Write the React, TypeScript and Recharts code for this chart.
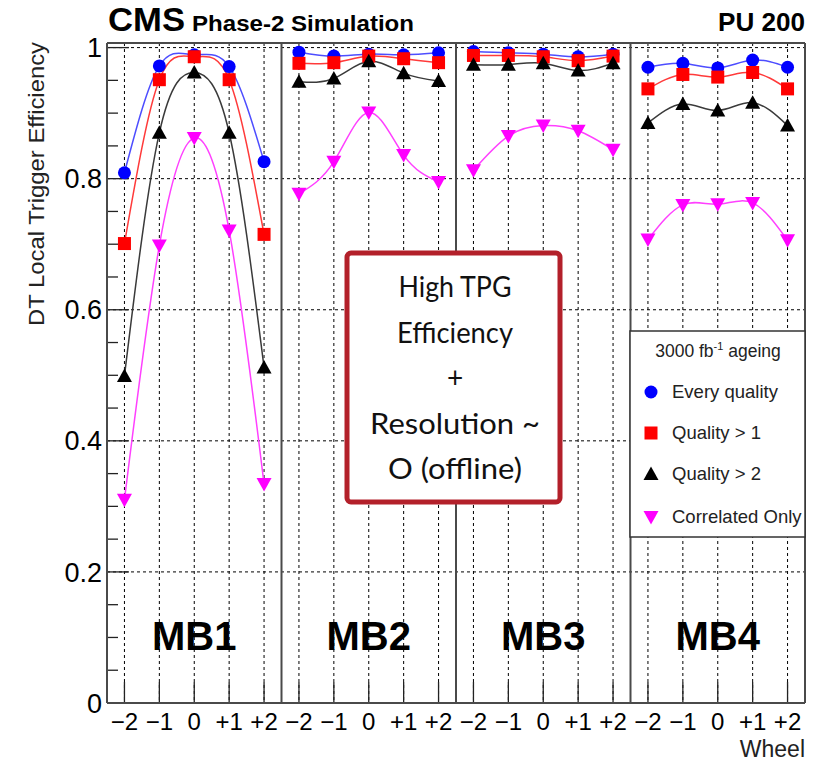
import React from "react";
import { LineChart, Line, XAxis, YAxis, CartesianGrid, ReferenceLine } from "recharts";

// ---------- data ----------
const wheelLabels = ["−2", "−1", "0", "+1", "+2"];
const stations = ["MB1", "MB2", "MB3", "MB4"];
const yTickValues = [0, 0.2, 0.4, 0.6, 0.8, 1];

const everyQuality = [
  0.809, 0.972, 0.989, 0.971, 0.826,
  0.993, 0.987, 0.99, 0.989, 0.992,
  0.994, 0.992, 0.99, 0.986, 0.99,
  0.97, 0.976, 0.969, 0.981, 0.97,
];
const qualityGt1 = [
  0.701, 0.951, 0.986, 0.951, 0.715,
  0.976, 0.977, 0.987, 0.983, 0.977,
  0.988, 0.988, 0.986, 0.98, 0.987,
  0.937, 0.959, 0.955, 0.962, 0.937,
];
const qualityGt2 = [
  0.499, 0.87, 0.962, 0.87, 0.512,
  0.948, 0.953, 0.979, 0.961, 0.949,
  0.974, 0.974, 0.976, 0.965, 0.976,
  0.885, 0.914, 0.904, 0.916, 0.881,
];
const correlatedOnly = [
  0.31, 0.698, 0.862, 0.721, 0.334,
  0.777, 0.826, 0.901, 0.836, 0.795,
  0.813, 0.865, 0.881, 0.873, 0.844,
  0.707, 0.76, 0.761, 0.763, 0.706,
];

const legendTitle = "3000 fb";
const legendTitleSup = "-1";
const legendTitleEnd = " ageing";
const boxLines = ["High TPG", "Efficiency", "+", "Resolution ~", "O (offline)"];
const boxLineWidths = [113, 116, 0, 170, 134];

// ---------- styling / geometry ----------
const FONT = "'Liberation Sans', Arial, Helvetica, sans-serif";
const W = 813;
const H = 762;
const PLOT_L = 107;
const PLOT_R = 805;
const PLOT_T = 43;
const PLOT_B = 703;
const Y_MAX = 1.007;
const X_MAX = 20;
const unitX = (PLOT_R - PLOT_L) / X_MAX;
const unitY = (PLOT_B - PLOT_T) / Y_MAX;

const Marker = ({ shape, cx, cy, color }: any) => {
  if (cx == null || cy == null) return null;
  if (shape === "circle") return <circle cx={cx} cy={cy} r={6.5} fill={color} />;
  if (shape === "square") return <rect x={cx - 6.5} y={cy - 6.5} width={13} height={13} fill={color} />;
  if (shape === "up")
    return <polygon points={`${cx},${cy - 7.5} ${cx - 7.5},${cy + 6} ${cx + 7.5},${cy + 6}`} fill={color} />;
  return <polygon points={`${cx},${cy + 7.5} ${cx - 7.5},${cy - 6} ${cx + 7.5},${cy - 6}`} fill={color} />;
};

const series = [
  { name: "Every quality", values: everyQuality, color: "#0000ff", line: "#4d4dff", shape: "circle" },
  { name: "Quality > 1", values: qualityGt1, color: "#ff0000", line: "#ff3a3a", shape: "square" },
  { name: "Quality > 2", values: qualityGt2, color: "#000000", line: "#3a3a3a", shape: "up" },
  { name: "Correlated Only", values: correlatedOnly, color: "#ff00ff", line: "#ff40ff", shape: "down" },
];

const panelData = (values: number[], p: number) =>
  wheelLabels.map((_, i) => ({ x: p * 5 + i + 0.5, v: values[p * 5 + i] }));

const xTicks: number[] = [];
stations.forEach((_, p) => wheelLabels.forEach((_, i) => xTicks.push(p * 5 + i + 0.5)));

const yMinorTicks: number[] = [];
for (let k = 1; k <= 20; k++) yMinorTicks.push(Math.round(k * 5) / 100);

export default function App() {
  return (
    <div style={{ position: "absolute", left: 0, top: 0, width: W, height: H, background: "#fff" }}>
      <LineChart width={W} height={H} margin={{ top: PLOT_T, right: W - PLOT_R, bottom: 29, left: 47 }}>
        <CartesianGrid stroke="#000" strokeDasharray="3 3" strokeWidth={1} />
        <XAxis
          type="number"
          dataKey="x"
          domain={[0, X_MAX]}
          ticks={xTicks}
          interval={0}
          allowDataOverflow
          height={30}
          tickLine={false}
          axisLine={false}
          tickSize={0}
          tickMargin={10}
          tick={{ fill: "#000", fontSize: 24, fontFamily: FONT }}
          tickFormatter={(v: number) => wheelLabels[Math.floor(v) % 5]}
        />
        <YAxis
          type="number"
          domain={[0, Y_MAX]}
          ticks={yTickValues}
          interval={0}
          allowDataOverflow
          width={60}
          tickLine={false}
          axisLine={false}
          tickSize={0}
          tickMargin={5}
          tick={{ fill: "#000", fontSize: 27, fontFamily: FONT }}
          tickFormatter={(v: number) => (v === 0 ? "0" : v === 1 ? "1" : v.toFixed(1))}
        />
        {yMinorTicks.map((t) => {
          const major = Math.abs(t * 5 - Math.round(t * 5)) < 1e-6;
          return (
            <ReferenceLine
              key={`yt${t}`}
              segment={[{ x: 0, y: t }, { x: (major ? 22 : 11) / unitX, y: t }]}
              stroke="#222"
              strokeWidth={1.3}
              ifOverflow="visible"
            />
          );
        })}
        {xTicks.map((t) => (
          <ReferenceLine
            key={`xt${t}`}
            segment={[{ x: t, y: 0 }, { x: t, y: 21 / unitY }]}
            stroke="#222"
            strokeWidth={1.3}
            ifOverflow="visible"
          />
        ))}
        {[0, 5, 10, 15, 20].map((x) => (
          <ReferenceLine key={`sep${x}`} x={x} stroke="#4a4a4a" strokeWidth={2} ifOverflow="visible" />
        ))}
        <ReferenceLine y={0} stroke="#4a4a4a" strokeWidth={2} ifOverflow="visible" />
        <ReferenceLine y={Y_MAX} stroke="#4a4a4a" strokeWidth={2} ifOverflow="visible" />
        {series.map((s) =>
          stations.map((st, p) => (
            <Line
              key={`${s.name}-${st}`}
              data={panelData(s.values, p)}
              dataKey="v"
              type="natural"
              stroke={s.line}
              strokeWidth={1.5}
              isAnimationActive={false}
              activeDot={false}
              legendType="none"
              dot={(props: any) => (
                <Marker key={`${s.name}-${p}-${props.index}`} shape={s.shape} cx={props.cx} cy={props.cy} color={s.color} />
              )}
            />
          ))
        )}
      </LineChart>

      <svg
        width={W}
        height={H}
        style={{ position: "absolute", left: 0, top: 0, pointerEvents: "none" }}
        fontFamily={FONT}
      >
        {/* header */}
        <text x={108} y={31} fontSize={33} fontWeight="bold" textLength={77} lengthAdjust="spacingAndGlyphs">
          CMS
        </text>
        <text x={192} y={31} fontSize={22} fontWeight="bold" textLength={222} lengthAdjust="spacingAndGlyphs">
          Phase-2 Simulation
        </text>
        <text x={718} y={31} fontSize={25} fontWeight="bold" textLength={87} lengthAdjust="spacingAndGlyphs">
          PU 200
        </text>

        {/* y axis title */}
        <text
          transform="translate(44,184) rotate(-90)"
          textAnchor="middle"
          fontSize={22}
          fill="#222"
          textLength={284}
          lengthAdjust="spacingAndGlyphs"
        >
          DT Local Trigger Efficiency
        </text>

        {/* x axis title */}
        <text x={805} y={757} textAnchor="end" fontSize={23} fill="#222">
          Wheel
        </text>

        {/* station labels */}
        {stations.map((st, p) => (
          <text
            key={st}
            x={PLOT_L + (p * 5 + 2.5) * unitX}
            y={PLOT_B - 0.081 * unitY}
            textAnchor="middle"
            fontSize={40}
            fontWeight="bold"
            fill="#000"
          >
            {st}
          </text>
        ))}

        {/* highlight box */}
        <rect x={347} y={253} width={213} height={249} rx={4} fill="#fff" stroke="#b3202a" strokeWidth={5} />
        {boxLines.map((t, i) => (
          <text
            key={t}
            x={455}
            y={297 + i * 45.5}
            textAnchor="middle"
            fontSize={28}
            fontFamily="Lato, 'Open Sans', sans-serif"
            fill="#111"
            {...(boxLineWidths[i] ? { textLength: boxLineWidths[i], lengthAdjust: "spacingAndGlyphs" } : {})}
          >
            {t}
          </text>
        ))}

        {/* legend */}
        <rect x={630} y={331} width={175} height={206} fill="#fff" stroke="#333" strokeWidth={1.5} />
        <text x={718} y={357} textAnchor="middle" fontSize={17.5} fill="#222">
          {legendTitle}
          <tspan fontSize={11} dy={-7}>
            {legendTitleSup}
          </tspan>
          <tspan dy={7}>{legendTitleEnd}</tspan>
        </text>
        {series.map((s, i) => {
          const cy = [392, 433, 474, 517][i];
          return (
            <g key={s.name}>
              <Marker shape={s.shape} cx={651} cy={cy} color={s.color} />
              <text x={672} y={cy + 6} fontSize={18.5} fill="#222">
                {s.name}
              </text>
            </g>
          );
        })}
      </svg>
    </div>
  );
}
